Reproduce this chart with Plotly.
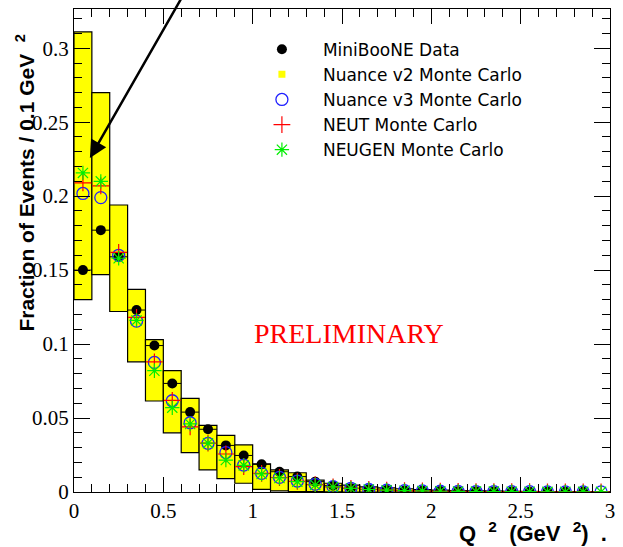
import plotly.graph_objects as go

q2_centers = [0.05, 0.15, 0.25, 0.35, 0.45, 0.55, 0.65, 0.75, 0.85, 0.95,
              1.05, 1.15, 1.25, 1.35, 1.45, 1.55, 1.65, 1.75, 1.85, 1.95,
              2.05, 2.15, 2.25, 2.35, 2.45, 2.55, 2.65, 2.75, 2.85, 2.95]

miniboone_data = [0.150, 0.177, 0.159, 0.123, 0.099, 0.0734, 0.054, 0.0424, 0.0315, 0.0247,
                  0.0187, 0.0137, 0.0104, 0.0070, 0.0043, 0.0025, 0.0018, 0.0013, 0.0010, 0.0008,
                  0.0006, 0.0005, 0.0004, 0.0003, 0.0003, 0.0002, 0.0002, 0.0001, 0.0001, None]

nuance_v2_upper = [0.311, 0.270, 0.194, 0.137, 0.103, 0.082, 0.0633, 0.045, 0.0383, 0.0318,
                   0.019, 0.0149, 0.013, 0.008, 0.0059, 0.0047, 0.0035, 0.0028, 0.0022, 0.0017,
                   0.0013, 0.0010, 0.0008, 0.0007, 0.0005, 0.0004, 0.0003, 0.0003, 0.0002, 0.0002]
nuance_v2_lower = [0.130, 0.147, 0.122, 0.088, 0.0615, 0.040, 0.0266, 0.0149, 0.009, 0.0059,
                   0.0018, 0.0007, 0.0003, 0.0002, 0.0001, 0.0, 0.0, 0.0, 0.0, 0.0,
                   0.0, 0.0, 0.0, 0.0, 0.0, 0.0, 0.0, 0.0, 0.0, 0.0]

nuance_v3 = [0.2018, 0.199, 0.160, 0.1155, 0.0876, 0.0617, 0.0468, 0.0329, 0.0266, 0.0182,
             0.0126, 0.0099, 0.0074, 0.0052, 0.0036, 0.0025, 0.0017, 0.0012, 0.0009, 0.0007,
             0.0005, 0.0004, 0.0003, 0.0003, 0.0002, 0.0002, 0.0001, 0.0001, 0.0001, 0.0001]

neut = [0.209, 0.207, 0.162, 0.118, 0.088, 0.062, 0.044, 0.033, 0.0257, 0.0171,
        0.0126, 0.0098, 0.0072, 0.0050, 0.0035, 0.0024, 0.0017, 0.0012, 0.0009, 0.0007,
        0.0005, 0.0004, 0.0003, 0.0003, 0.0002, 0.0002, 0.0001, 0.0001, 0.0001, 0.0001]

neugen = [0.2157, 0.210, 0.158, 0.116, 0.082, 0.057, 0.046, 0.033, 0.0216, 0.018,
          0.0122, 0.0095, 0.0070, 0.0048, 0.0034, 0.0024, 0.0017, 0.0012, 0.0009, 0.0007,
          0.0005, 0.0004, 0.0003, 0.0003, 0.0002, 0.0002, 0.0001, 0.0001, 0.0001, 0.0001]

bin_half_width = [0.05] * len(q2_centers)
band_height = [u - l for u, l in zip(nuance_v2_upper, nuance_v2_lower)]

fig = go.Figure()

# Nuance v2 band (yellow boxes)
fig.add_trace(go.Bar(
    x=q2_centers, y=band_height, base=nuance_v2_lower, width=0.1,
    marker=dict(color="#ffff00", line=dict(color="black", width=1.2)),
    showlegend=False, name="Nuance v2 Monte Carlo"))

# data
fig.add_trace(go.Scatter(
    x=q2_centers, y=miniboone_data, mode="markers", name="MiniBooNE Data",
    marker=dict(symbol="circle", size=10, color="black"),
    error_x=dict(type="data", array=bin_half_width, color="black", thickness=1, width=0),
    legendrank=1))

# legend entry for v2
fig.add_trace(go.Scatter(
    x=[None], y=[None], mode="markers", name="Nuance v2 Monte Carlo",
    marker=dict(symbol="square", size=7, color="#ffff00"), legendrank=2))

fig.add_trace(go.Scatter(
    x=q2_centers, y=nuance_v3, mode="markers", name="Nuance v3 Monte Carlo",
    marker=dict(symbol="circle-open", size=12, color="#1f1fff", line=dict(width=1.3)),
    legendrank=3))

fig.add_trace(go.Scatter(
    x=q2_centers, y=neut, mode="markers", name="NEUT Monte Carlo",
    marker=dict(symbol="cross-thin-open", size=12, color="red", line=dict(width=1.2, color="red")),
    legendrank=4))

fig.add_trace(go.Scatter(
    x=q2_centers, y=neugen, mode="markers", name="NEUGEN Monte Carlo",
    marker=dict(symbol="asterisk-open", size=12, color="#00ee00", line=dict(width=1.2, color="#00ee00")),
    legendrank=5))

tick_font = dict(family="Liberation Serif, Times New Roman, serif", size=21, color="black")

fig.update_layout(
    width=623, height=547,
    margin=dict(l=74, r=10, t=8, b=55),
    paper_bgcolor="white", plot_bgcolor="white",
    barmode="overlay",
    showlegend=True,
    legend=dict(x=0.3114, y=0.953, xanchor="left", yanchor="top", itemwidth=72,
                font=dict(family="DejaVu Sans, Liberation Sans, sans-serif", size=17, color="black"),
                bgcolor="rgba(0,0,0,0)", borderwidth=0),
    xaxis=dict(range=[0, 3], showgrid=False, zeroline=False,
               showline=True, linecolor="black", linewidth=1, mirror="ticks",
               ticks="inside", ticklen=15, tickcolor="black", tickwidth=1,
               tickfont=tick_font,
               tickvals=[0, 0.5, 1, 1.5, 2, 2.5, 3], ticktext=["0", "0.5", "1", "1.5", "2", "2.5", "3"],
               minor=dict(ticks="inside", ticklen=8, dtick=0.1, tick0=0, tickcolor="black", showgrid=False)),
    yaxis=dict(range=[0, 0.3265], showgrid=False, zeroline=False,
               showline=True, linecolor="black", linewidth=1, mirror="ticks",
               ticks="inside", ticklen=16, tickcolor="black", tickwidth=1,
               tickvals=[0, 0.05, 0.1, 0.15, 0.2, 0.25, 0.3],
               ticktext=["0", "0.05", "0.1", "0.15", "0.2", "0.25", "0.3"],
               tickfont=tick_font,
               minor=dict(ticks="inside", ticklen=8, dtick=0.01, tick0=0, tickcolor="black", showgrid=False)),
)

# Arrow
fig.add_annotation(x=0.089, y=0.2257, ax=0.607, ay=0.335, xref="x", yref="y",
                   axref="x", ayref="y", text="", showarrow=True,
                   arrowhead=2, arrowsize=1.4, arrowwidth=2.5, arrowcolor="black")

# PRELIMINARY
fig.add_annotation(x=1.54, y=0.107, xref="x", yref="y", text="PRELIMINARY",
                   showarrow=False,
                   font=dict(family="Liberation Serif, Times New Roman, serif", size=28, color="#ff0000"))

# Y title
fig.add_annotation(x=-0.092, y=0.64, xref="paper", yref="paper",
                   text="<b>Fraction of Events / 0.1 GeV  <sup>2</sup></b>", textangle=-90,
                   showarrow=False, xanchor="center", yanchor="middle",
                   font=dict(family="Liberation Sans, Arial, sans-serif", size=21, color="black"))

# X title
fig.add_annotation(x=0.998, y=-0.083, xref="paper", yref="paper",
                   text="<b>Q  <sup>2</sup>  (GeV  <sup>2</sup>)  .</b>",
                   showarrow=False, xanchor="right", yanchor="middle",
                   font=dict(family="Liberation Sans, Arial, sans-serif", size=22, color="black"))

fig.write_html("out.html")
